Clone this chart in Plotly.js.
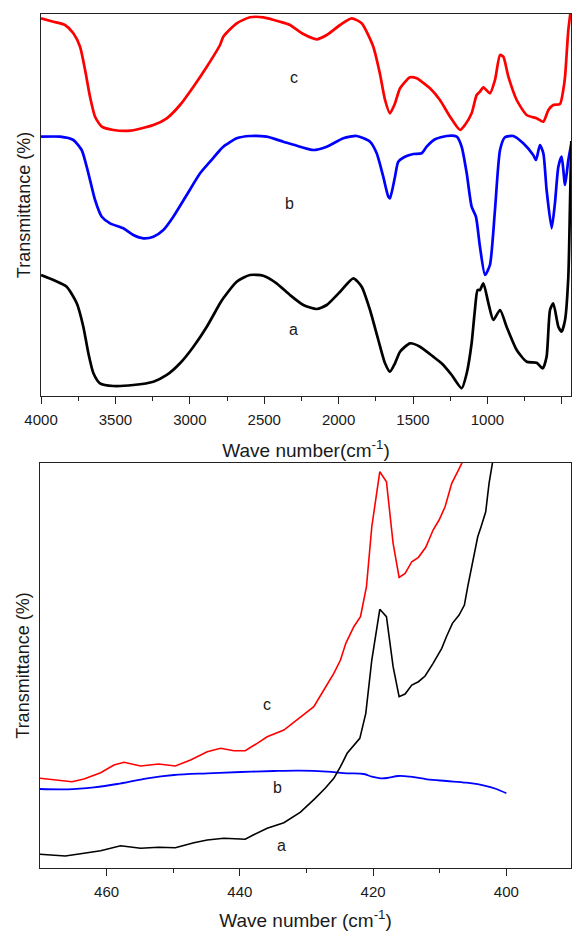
<!DOCTYPE html>
<html>
<head>
<meta charset="utf-8">
<script src="https://cdn.plot.ly/plotly-3.0.1.min.js"></script>
<style>html,body{margin:0;padding:0;background:#fff;}#chart{width:572px;height:931px;}</style>
</head>
<body>
<div id="chart"></div>
<script>
// ---- Top panel (full range FTIR), arbitrary transmittance units ----
const topWnC = [4000,3917,3839,3783,3738,3704,3671,3637,3592,3514,3402,3245,3155,3066,2976,2886,2797,2775,2685,2596,2506,2394,2327,2237,2147,2080,1990,1912,1845,1767,1722,1688,1655,1621,1587,1520,1475,1386,1319,1251,1184,1151,1106,1072,1050,1027,983,949,915,893,859,803,736,669,624,590,557,512,490,478,456,440,436];
const topC   = [377.7,374.3,371,362.7,349.3,326,299.3,279.3,269.3,266,265.3,271,277.7,291,309.3,329.3,351,359.3,372.7,378.7,378.7,374.3,371,362,356.7,361,371,377.7,372.7,349.3,322,296,282.7,292.7,307.7,318.7,317.7,307.7,296,279.3,266,271,282.7,301,304.3,308.7,302.7,316,341,339.3,319.3,296,281,277.7,274.3,286,291,292,306,319.3,366,386,400];

const topWnB = [4000,3872,3783,3727,3682,3637,3592,3536,3447,3380,3312,3245,3178,3111,3021,2931,2864,2797,2775,2685,2596,2483,2372,2259,2170,2080,1968,1878,1789,1744,1700,1666,1655,1621,1599,1554,1498,1442,1408,1352,1274,1206,1173,1139,1106,1077,1050,1016,983,949,915,882,826,759,692,673,647,624,602,568,546,523,501,478,456,436];
const topB   = [259.3,259.3,256,246,222.7,196,179.3,172.7,167.7,161,157.7,159.3,166,179.3,201,222.7,234.3,246,249.3,257.7,260,259.3,254.3,249.3,246,249.3,257.7,260,254.3,242.7,219.3,199.3,197.7,219.3,234.3,239.3,242,242.7,249.3,256.7,260,259.3,249.3,222.7,189.3,179.3,149.3,121,131,186,246,258.7,260,252.7,241,236,251,242.7,206,167.7,192.7,229.3,239.3,211,236,252];

const topWnA = [4000,3917,3828,3760,3716,3682,3648,3604,3514,3380,3245,3155,3066,2976,2886,2797,2775,2685,2596,2506,2417,2327,2237,2147,2080,1990,1901,1845,1789,1733,1688,1655,1621,1587,1520,1453,1364,1308,1240,1173,1139,1106,1084,1066,1050,1027,993,960,915,871,803,736,669,628,602,579,557,523,501,478,456,445,436];
const topA   = [121,116,109.3,92.7,69.3,42.7,22.7,12.7,10,11,14.3,21,32.7,49.3,69.3,92.7,97.7,114.3,121,120.3,112.7,101,91,87,91,104.3,117.7,109.3,86,56,32.7,24.3,32.7,44.3,52.7,49.3,39.3,32.7,21,7.7,22.7,52.7,86,106,106,112.7,92.7,76,86,69.3,46,34.3,33.3,27.7,39.3,86,92.7,69.3,64.3,76,119.3,190,255];

// ---- Bottom panel (470-390 cm-1 region) ----
const botWnC = [470,467.9,465.2,463.4,460.9,458.9,457.4,454.9,452.2,449.7,447.4,444.9,442.9,440.9,439.2,437.4,435.9,433.4,430.9,428.9,427.4,425.9,424.9,424.1,422.9,421.9,421,420.2,419,418,417,416.1,415.2,414.2,413.2,412.1,411,410.1,409.2,408.2,407.2,406.7,405.5];
const botC   = [89.7,88,86.3,89,95.3,103,105.7,102,104,102,108,116.3,119.7,117.3,117.3,124.7,131.3,138,151.3,161.3,178,194.7,208,224.7,241.3,251.3,281.3,341.3,396.3,386.3,324.7,290.7,294.7,306.3,310.7,320.7,338,348,361.3,384.7,398,404.7,430];

const botWnB = [470,465.9,461.9,458.4,453.9,449.9,444.9,439.9,434.9,430.9,426.9,423.9,421.4,420.2,418.9,417.9,416.2,414.4,411.9,409,406,403,401.5,400];
const botB   = [79,78.7,80.7,84,89.7,93,94.7,96,97,97.3,96.3,94.7,94,91.3,89.7,90,92,91.3,88.7,87,85.3,82,79,74.7];

const botWnA = [470,466.2,463.4,460.9,457.9,454.9,452.2,449.7,446.9,444.9,442.4,439.2,438,435.9,433.4,430.9,428.7,427.2,425.9,424.9,423.9,422.9,422,421.1,420.2,419,418,417,416.1,415.2,414.2,413.2,412.2,411,409.7,409,408.1,407.1,406.3,405.8,405,404.3,403.8,403.1,402.6,402.1,401.5];
const botA   = [13.7,12,14.7,17.3,22.3,19.7,20.7,20.3,25.3,28,29.7,28.7,33,39.7,45.3,55.8,69.7,79.7,89.7,101.3,114.7,123,129.7,154.7,208,258.7,251.3,201.3,171.3,174,183,186.3,192,204.7,219.7,231.3,244.7,253,263,281.3,308,331.3,341.3,356.3,384.7,404.7,440];

// labels
const labelText = ['a','b','c'];
const topLabelX = [2300,2330,2300];
const topLabelY = [67,193,319];
const botLabelX = [433.8,434.3,435.9];
const botLabelY = [23,81,164];

const FONT = '"Liberation Sans", Arial, sans-serif';
const TXT = '#1a1a1a';
const RED = '#ff0000', BLUE = '#0000ff', BLACK = '#000000';

const traces = [
  {x: topWnC, y: topC, xaxis:'x', yaxis:'y', mode:'lines', line:{color:RED,width:2.7,shape:'spline',smoothing:0.6}, name:'c'},
  {x: topWnB, y: topB, xaxis:'x', yaxis:'y', mode:'lines', line:{color:BLUE,width:2.7,shape:'spline',smoothing:0.6}, name:'b'},
  {x: topWnA, y: topA, xaxis:'x', yaxis:'y', mode:'lines', line:{color:BLACK,width:2.7,shape:'spline',smoothing:0.6}, name:'a'},
  {x: botWnC, y: botC, xaxis:'x2', yaxis:'y2', mode:'lines', line:{color:RED,width:1.6}, name:'c'},
  {x: botWnB, y: botB, xaxis:'x2', yaxis:'y2', mode:'lines', line:{color:BLUE,width:1.8,shape:'spline'}, name:'b'},
  {x: botWnA, y: botA, xaxis:'x2', yaxis:'y2', mode:'lines', line:{color:BLACK,width:1.6}, name:'a'}
];

const annotations = [];
for (let i = 0; i < 3; i++) {
  annotations.push({x: topLabelX[i], y: topLabelY[i], xref:'x', yref:'y', text: labelText[i], showarrow:false, font:{family:FONT,size:16,color:TXT}});
  annotations.push({x: botLabelX[i], y: botLabelY[i], xref:'x2', yref:'y2', text: labelText[i], showarrow:false, font:{family:FONT,size:16,color:TXT}});
}

const axisCommon = {
  showline:true, linecolor:'#222', linewidth:1, mirror:true, showgrid:false, zeroline:false,
  ticks:'outside', ticklen:7, tickwidth:1, tickcolor:'#222',
  tickfont:{family:FONT,size:15,color:TXT}
};

const layout = {
  width:572, height:931,
  margin:{l:40, r:1, t:14, b:63},
  paper_bgcolor:'#fff', plot_bgcolor:'#fff',
  showlegend:false,
  font:{family:FONT,color:TXT},
  xaxis: Object.assign({}, axisCommon, {
    domain:[0.002,1], range:[4000,438], anchor:'y',
    tickvals:[4000,3500,3000,2500,2000,1500,1000,500],
    minor:{tickvals:[3750,3250,2750,2250,1750,1250,750], ticks:'outside', ticklen:4, tickcolor:'#222'},
    ticklabelstandoff:3,
    title:{text:'Wave number(cm<sup>-1</sup>)', font:{family:FONT,size:19,color:TXT}, standoff:16}
  }),
  yaxis: Object.assign({}, axisCommon, {
    domain:[0.5527,1], range:[0,382], anchor:'x', ticks:'', showticklabels:false,
    title:{text:'Transmittance (%)', font:{family:FONT,size:18,color:TXT}, standoff:4}
  }),
  xaxis2: Object.assign({}, axisCommon, {
    domain:[0,1], range:[470,390.3], anchor:'y2',
    tickvals:[460,440,420,400],
    minor:{tickvals:[450,430,410], ticks:'outside', ticklen:4, tickcolor:'#222'},
    ticklabelstandoff:3,
    title:{text:'Wave number (cm<sup>-1</sup>)', font:{family:FONT,size:19,color:TXT}, standoff:16}
  }),
  yaxis2: Object.assign({}, axisCommon, {
    domain:[0,0.4742], range:[0,405], anchor:'x2', ticks:'', showticklabels:false,
    title:{text:'Transmittance (%)', font:{family:FONT,size:18,color:TXT}, standoff:4}
  }),
  annotations: annotations
};

Plotly.newPlot('chart', traces, layout, {staticPlot:true, displayModeBar:false});
</script>
</body>
</html>
